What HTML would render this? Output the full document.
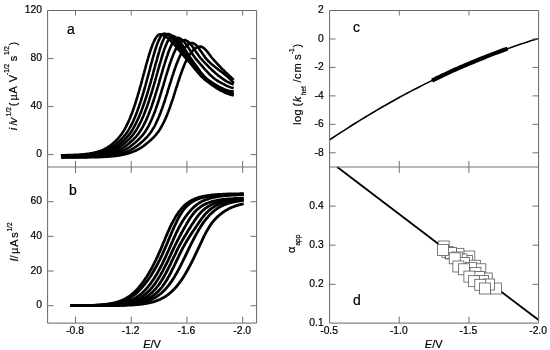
<!DOCTYPE html>
<html><head><meta charset="utf-8"><title>Figure</title>
<style>
html,body{margin:0;padding:0;background:#fff}
svg{display:block}
text{font-family:"Liberation Sans",sans-serif;fill:#000;stroke:#000;stroke-width:0.2px}
.t{font-size:10.3px}
.l{font-size:11px}
.p{font-size:14px;stroke:#000;stroke-width:0.35px}
.s{font-size:6.5px}
.ax{stroke:#666;stroke-width:1;fill:none;shape-rendering:auto}
.cv{stroke:#000;fill:none;stroke-linejoin:round;stroke-linecap:butt}
.sq{fill:#fff;stroke:#505050;stroke-width:0.75}
</style></head><body>
<svg width="550" height="350" viewBox="0 0 550 350">
<rect width="550" height="350" fill="#fff"/>
<g class="cv" stroke-width="2.6" transform="scale(1 1.0)">
<path d="M61.0 155.30L61.5 155.20L62.0 155.20L62.5 155.20L62.9 155.20L63.4 155.20L63.9 155.20L64.4 155.20L64.9 155.20L65.4 155.20L65.9 155.20L66.4 155.10L66.9 155.10L67.4 155.10L68.0 155.10L68.5 155.10L69.0 155.10L69.5 155.10L70.0 155.10L70.5 155.00L71.1 155.00L71.6 155.00L72.1 155.00L72.6 155.00L73.2 155.00L73.7 154.90L74.2 154.90L74.8 154.90L75.3 154.90L75.8 154.80L76.4 154.80L76.9 154.80L77.5 154.80L78.0 154.70L78.6 154.70L79.1 154.70L79.7 154.60L80.2 154.60L80.8 154.50L81.3 154.50L81.9 154.50L82.4 154.40L83.0 154.40L83.6 154.30L84.1 154.30L84.7 154.20L85.3 154.10L85.8 154.10L86.4 154.00L87.0 153.90L87.5 153.90L88.1 153.80L88.7 153.70L89.3 153.60L89.8 153.50L90.4 153.40L91.0 153.30L91.6 153.20L92.2 153.10L92.8 153.00L93.3 152.90L93.9 152.80L94.5 152.60L95.1 152.50L95.7 152.30L96.3 152.20L96.9 152.00L97.5 151.80L98.1 151.70L98.7 151.50L99.3 151.30L99.9 151.10L100.5 150.90L101.1 150.60L101.7 150.40L102.3 150.20L102.9 149.90L103.5 149.60L104.1 149.30L104.7 149.00L105.3 148.70L105.9 148.40L106.5 148.10L107.1 147.70L107.7 147.30L108.3 146.90L108.9 146.50L109.5 146.10L110.2 145.70L110.8 145.20L111.4 144.70L112.0 144.20L112.6 143.70L113.3 143.10L113.9 142.60L114.6 142.00L115.3 141.30L115.9 140.70L116.6 140.00L117.3 139.30L118.0 138.60L118.6 137.80L119.3 137.00L120.0 136.20L120.7 135.40L121.3 134.50L122.0 133.60L122.6 132.60L123.3 131.60L123.9 130.60L124.5 129.50L125.1 128.40L125.7 127.30L126.3 126.10L126.9 124.90L127.5 123.70L128.1 122.40L128.7 121.00L129.3 119.70L129.9 118.30L130.5 116.80L131.1 115.30L131.7 113.80L132.3 112.20L132.9 110.60L133.5 109.00L134.0 107.30L134.6 105.60L135.2 103.80L135.8 102.00L136.3 100.20L136.9 98.30L137.5 96.40L138.0 94.50L138.6 92.60L139.2 90.60L139.7 88.60L140.3 86.60L140.9 84.60L141.4 82.60L142.0 80.50L142.5 78.50L143.1 76.40L143.6 74.40L144.2 72.30L144.7 70.30L145.3 68.30L145.8 66.30L146.3 64.30L146.9 62.40L147.4 60.50L148.0 58.60L148.5 56.80L149.0 55.00L149.6 53.30L150.1 51.60L150.6 50.00L151.2 48.50L151.7 47.00L152.2 45.60L152.7 44.20L153.3 43.00L153.8 41.80L154.3 40.70L154.8 39.70L155.3 38.70L155.8 37.90L156.3 37.10L156.8 36.50L157.3 35.90L157.8 35.40L158.3 35.00L158.8 34.70L159.3 34.40L159.8 34.30L160.3 34.20L161.7 34.50L163.6 35.30L165.4 36.30L167.3 37.70L169.1 39.20L171.0 41.00L172.8 42.90L174.6 45.00L176.5 47.10L178.3 49.40L180.2 51.60L182.0 53.80L183.9 56.00L185.7 58.20L187.6 60.20L189.4 62.20L191.3 64.40L193.1 66.70L194.9 69.00L196.8 71.20L198.6 73.40L200.5 75.50L202.3 77.40L204.2 79.10L206.0 80.50L207.9 81.90L209.7 83.30L211.6 84.60L213.4 85.90L215.2 87.10L217.1 88.30L218.9 89.40L220.8 90.50L222.6 91.40L224.5 92.40L226.3 93.20L228.2 93.90L230.0 94.60L231.9 95.10L233.7 95.50"/>
<path d="M61.0 155.70L61.5 155.60L61.9 155.60L62.4 155.60L62.8 155.60L63.3 155.60L63.8 155.60L64.3 155.60L64.7 155.60L65.2 155.60L65.7 155.60L66.2 155.50L66.7 155.50L67.2 155.50L67.6 155.50L68.1 155.50L68.6 155.50L69.1 155.50L69.6 155.50L70.1 155.50L70.7 155.50L71.2 155.50L71.7 155.40L72.2 155.40L72.7 155.40L73.2 155.40L73.7 155.40L74.3 155.40L74.8 155.30L75.3 155.30L75.9 155.30L76.4 155.30L76.9 155.30L77.5 155.20L78.0 155.20L78.5 155.20L79.1 155.20L79.6 155.10L80.2 155.10L80.7 155.10L81.3 155.00L81.8 155.00L82.4 155.00L82.9 154.90L83.5 154.90L84.1 154.80L84.6 154.80L85.2 154.70L85.8 154.70L86.3 154.60L86.9 154.60L87.5 154.50L88.1 154.50L88.6 154.40L89.2 154.30L89.8 154.30L90.4 154.20L91.0 154.10L91.5 154.00L92.1 153.90L92.7 153.90L93.3 153.80L93.9 153.70L94.5 153.60L95.1 153.40L95.7 153.30L96.3 153.20L96.9 153.10L97.5 152.90L98.1 152.80L98.7 152.70L99.3 152.50L99.9 152.30L100.5 152.20L101.1 152.00L101.7 151.80L102.3 151.60L102.9 151.40L103.5 151.20L104.2 151.00L104.8 150.70L105.4 150.50L106.0 150.20L106.6 149.90L107.2 149.70L107.9 149.40L108.5 149.10L109.1 148.70L109.7 148.40L110.3 148.00L111.0 147.70L111.6 147.30L112.2 146.90L112.9 146.50L113.5 146.00L114.1 145.60L114.7 145.10L115.4 144.60L116.0 144.10L116.7 143.50L117.4 142.90L118.1 142.40L118.8 141.70L119.5 141.10L120.2 140.40L120.9 139.70L121.6 139.00L122.3 138.30L123.0 137.50L123.7 136.70L124.4 135.80L125.1 135.00L125.8 134.10L126.5 133.10L127.2 132.20L127.8 131.20L128.5 130.10L129.1 129.00L129.7 127.90L130.4 126.80L131.0 125.60L131.6 124.40L132.2 123.10L132.9 121.80L133.5 120.50L134.1 119.10L134.7 117.70L135.3 116.20L135.9 114.70L136.5 113.20L137.1 111.60L137.7 110.00L138.3 108.30L138.9 106.60L139.5 104.90L140.1 103.10L140.7 101.30L141.3 99.50L141.8 97.60L142.4 95.80L143.0 93.80L143.6 91.90L144.1 89.90L144.7 88.00L145.3 86.00L145.8 84.00L146.4 81.90L146.9 79.90L147.5 77.90L148.0 75.80L148.6 73.80L149.1 71.80L149.7 69.80L150.2 67.80L150.7 65.80L151.2 63.80L151.8 61.90L152.3 60.00L152.8 58.20L153.3 56.30L153.8 54.60L154.3 52.90L154.8 51.20L155.3 49.60L155.8 48.00L156.3 46.60L156.8 45.20L157.3 43.80L157.8 42.60L158.3 41.40L158.7 40.30L159.2 39.30L159.7 38.30L160.2 37.50L160.6 36.70L161.1 36.00L161.5 35.40L162.0 34.90L162.4 34.50L162.9 34.10L163.3 33.90L163.8 33.70L164.2 33.60L165.1 33.70L166.8 34.30L168.6 35.30L170.3 36.60L172.1 38.30L173.8 40.20L175.5 42.20L177.3 44.50L179.0 46.80L180.8 49.30L182.5 51.70L184.3 54.10L186.0 56.40L187.8 58.60L189.5 60.70L191.2 62.80L193.0 65.00L194.7 67.30L196.5 69.50L198.2 71.70L200.0 73.80L201.7 75.80L203.5 77.60L205.2 79.10L207.0 80.50L208.7 81.70L210.4 83.00L212.2 84.20L213.9 85.40L215.7 86.60L217.4 87.60L219.2 88.70L220.9 89.70L222.7 90.60L224.4 91.40L226.1 92.10L227.9 92.80L229.6 93.30L231.4 93.80L233.1 94.10L233.7 94.20"/>
<path d="M61.0 155.90L61.5 155.90L61.9 155.90L62.4 155.90L62.8 155.90L63.3 155.80L63.8 155.80L64.2 155.80L64.7 155.80L65.2 155.80L65.7 155.80L66.2 155.80L66.6 155.80L67.1 155.80L67.6 155.80L68.1 155.80L68.6 155.80L69.1 155.80L69.6 155.80L70.1 155.80L70.6 155.80L71.1 155.70L71.6 155.70L72.1 155.70L72.7 155.70L73.2 155.70L73.7 155.70L74.2 155.70L74.7 155.70L75.3 155.70L75.8 155.60L76.3 155.60L76.8 155.60L77.4 155.60L77.9 155.60L78.4 155.60L79.0 155.50L79.5 155.50L80.1 155.50L80.6 155.50L81.2 155.40L81.7 155.40L82.3 155.40L82.8 155.40L83.4 155.30L83.9 155.30L84.5 155.30L85.0 155.20L85.6 155.20L86.2 155.10L86.7 155.10L87.3 155.10L87.9 155.00L88.4 155.00L89.0 154.90L89.6 154.90L90.2 154.80L90.7 154.80L91.3 154.70L91.9 154.60L92.5 154.60L93.1 154.50L93.7 154.40L94.2 154.30L94.8 154.20L95.4 154.20L96.0 154.10L96.6 154.00L97.2 153.90L97.8 153.80L98.4 153.70L99.0 153.50L99.6 153.40L100.2 153.30L100.8 153.20L101.4 153.00L102.0 152.90L102.6 152.70L103.2 152.60L103.8 152.40L104.4 152.20L105.0 152.00L105.7 151.80L106.3 151.60L106.9 151.40L107.5 151.20L108.1 151.00L108.7 150.70L109.3 150.50L110.0 150.20L110.6 149.90L111.2 149.60L111.8 149.30L112.5 149.00L113.1 148.70L113.7 148.30L114.3 147.90L115.0 147.60L115.6 147.20L116.2 146.70L116.8 146.30L117.5 145.90L118.1 145.40L118.7 144.90L119.4 144.40L120.0 143.90L120.7 143.30L121.4 142.70L122.1 142.10L122.8 141.50L123.5 140.80L124.2 140.20L124.9 139.50L125.6 138.70L126.3 138.00L127.0 137.20L127.7 136.40L128.4 135.50L129.1 134.60L129.8 133.70L130.5 132.80L131.2 131.80L131.8 130.80L132.5 129.70L133.1 128.70L133.7 127.50L134.4 126.40L135.0 125.20L135.6 124.00L136.3 122.70L136.9 121.40L137.5 120.00L138.2 118.70L138.8 117.20L139.4 115.80L140.0 114.30L140.7 112.70L141.3 111.20L141.9 109.60L142.5 107.90L143.1 106.20L143.7 104.50L144.3 102.80L144.9 101.00L145.5 99.20L146.1 97.30L146.7 95.50L147.3 93.60L147.9 91.70L148.5 89.70L149.0 87.80L149.6 85.80L150.2 83.80L150.8 81.80L151.3 79.80L151.9 77.80L152.4 75.80L153.0 73.80L153.5 71.80L154.0 69.90L154.6 67.90L155.1 65.90L155.6 64.00L156.1 62.10L156.7 60.30L157.2 58.40L157.7 56.70L158.2 54.90L158.7 53.20L159.2 51.60L159.6 50.00L160.1 48.50L160.6 47.00L161.1 45.60L161.5 44.30L162.0 43.10L162.5 41.90L162.9 40.80L163.4 39.80L163.8 38.90L164.3 38.00L164.7 37.20L165.2 36.50L165.6 35.90L166.0 35.40L166.4 35.00L166.9 34.60L167.3 34.40L167.7 34.20L168.1 34.00L168.5 34.00L170.1 34.50L171.8 35.50L173.4 36.80L175.1 38.40L176.7 40.40L178.4 42.50L180.0 44.90L181.6 47.30L183.3 49.80L184.9 52.30L186.6 54.80L188.2 57.20L189.9 59.30L191.5 61.40L193.2 63.50L194.8 65.70L196.4 67.90L198.1 70.10L199.7 72.20L201.4 74.20L203.0 76.10L204.7 77.80L206.3 79.20L207.9 80.50L209.6 81.60L211.2 82.80L212.9 83.90L214.5 85.00L216.2 86.00L217.8 87.00L219.5 88.00L221.1 88.90L222.7 89.70L224.4 90.40L226.0 91.10L227.7 91.60L229.3 92.10L231.0 92.50L232.6 92.70L233.7 92.80"/>
<path d="M61.0 156.30L61.4 156.20L61.9 156.20L62.3 156.20L62.8 156.20L63.2 156.20L63.7 156.20L64.1 156.20L64.6 156.20L65.0 156.20L65.5 156.20L66.0 156.20L66.4 156.20L66.9 156.20L67.4 156.20L67.9 156.20L68.3 156.20L68.8 156.20L69.3 156.20L69.8 156.20L70.3 156.20L70.8 156.20L71.3 156.10L71.8 156.10L72.3 156.10L72.8 156.10L73.3 156.10L73.8 156.10L74.3 156.10L74.8 156.10L75.3 156.10L75.8 156.10L76.4 156.00L76.9 156.00L77.4 156.00L77.9 156.00L78.5 156.00L79.0 156.00L79.5 156.00L80.1 155.90L80.6 155.90L81.1 155.90L81.7 155.90L82.2 155.90L82.8 155.80L83.3 155.80L83.9 155.80L84.4 155.80L85.0 155.70L85.5 155.70L86.1 155.70L86.6 155.60L87.2 155.60L87.8 155.60L88.3 155.50L88.9 155.50L89.5 155.50L90.0 155.40L90.6 155.40L91.2 155.30L91.8 155.30L92.3 155.20L92.9 155.20L93.5 155.10L94.1 155.00L94.7 155.00L95.3 154.90L95.9 154.80L96.4 154.80L97.0 154.70L97.6 154.60L98.2 154.50L98.8 154.40L99.4 154.30L100.0 154.20L100.6 154.10L101.2 154.00L101.8 153.90L102.4 153.80L103.0 153.70L103.6 153.50L104.2 153.40L104.9 153.20L105.5 153.10L106.1 152.90L106.7 152.80L107.3 152.60L107.9 152.40L108.5 152.20L109.2 152.00L109.8 151.80L110.4 151.60L111.0 151.40L111.6 151.10L112.3 150.90L112.9 150.60L113.5 150.30L114.1 150.00L114.8 149.80L115.4 149.40L116.0 149.10L116.7 148.80L117.3 148.40L117.9 148.00L118.6 147.70L119.2 147.30L119.8 146.80L120.5 146.40L121.1 145.90L121.7 145.50L122.4 145.00L123.0 144.50L123.7 143.90L124.4 143.40L125.1 142.80L125.8 142.20L126.5 141.50L127.2 140.90L127.9 140.20L128.7 139.50L129.4 138.80L130.1 138.00L130.9 137.20L131.6 136.40L132.3 135.50L133.0 134.70L133.7 133.80L134.4 132.80L135.1 131.80L135.8 130.80L136.4 129.80L137.1 128.70L137.7 127.60L138.3 126.40L139.0 125.30L139.6 124.00L140.2 122.80L140.9 121.50L141.5 120.20L142.1 118.80L142.7 117.40L143.4 116.00L144.0 114.50L144.6 113.00L145.2 111.40L145.8 109.80L146.4 108.20L147.0 106.60L147.6 104.90L148.2 103.20L148.8 101.40L149.4 99.70L149.9 97.90L150.5 96.00L151.1 94.20L151.7 92.30L152.3 90.40L152.8 88.50L153.4 86.60L154.0 84.70L154.5 82.70L155.1 80.80L155.6 78.80L156.2 76.90L156.7 75.00L157.3 73.00L157.8 71.10L158.3 69.20L158.9 67.30L159.4 65.40L159.9 63.60L160.5 61.80L161.0 60.00L161.5 58.30L162.0 56.60L162.5 55.00L163.0 53.40L163.5 51.80L164.0 50.30L164.5 48.90L165.0 47.60L165.5 46.30L166.0 45.10L166.5 43.90L166.9 42.80L167.4 41.90L167.9 40.90L168.4 40.10L168.8 39.30L169.3 38.60L169.7 38.00L170.2 37.50L170.6 37.10L171.1 36.70L171.5 36.40L172.0 36.20L172.4 36.10L172.9 36.00L174.0 36.30L175.6 37.20L177.1 38.40L178.6 40.00L180.1 42.00L181.7 44.10L183.2 46.50L184.7 49.00L186.3 51.50L187.8 54.00L189.3 56.40L190.9 58.60L192.4 60.60L193.9 62.70L195.4 64.80L197.0 66.90L198.5 69.10L200.0 71.20L201.6 73.20L203.1 75.00L204.6 76.80L206.2 78.30L207.7 79.60L209.2 80.60L210.7 81.60L212.3 82.70L213.8 83.60L215.3 84.60L216.9 85.50L218.4 86.40L219.9 87.20L221.5 88.00L223.0 88.70L224.5 89.40L226.0 89.90L227.6 90.40L229.1 90.80L230.6 91.10L232.2 91.20L233.7 91.30"/>
<path d="M61.0 156.50L61.4 156.50L61.9 156.50L62.3 156.50L62.8 156.50L63.2 156.50L63.6 156.50L64.1 156.50L64.5 156.50L65.0 156.50L65.5 156.50L65.9 156.50L66.4 156.50L66.9 156.50L67.3 156.50L67.8 156.50L68.3 156.50L68.7 156.50L69.2 156.40L69.7 156.40L70.2 156.40L70.7 156.40L71.2 156.40L71.6 156.40L72.1 156.40L72.6 156.40L73.1 156.40L73.6 156.40L74.1 156.40L74.6 156.40L75.1 156.40L75.6 156.40L76.2 156.40L76.7 156.40L77.2 156.30L77.7 156.30L78.2 156.30L78.7 156.30L79.3 156.30L79.8 156.30L80.3 156.30L80.9 156.30L81.4 156.30L81.9 156.20L82.5 156.20L83.0 156.20L83.5 156.20L84.1 156.20L84.6 156.20L85.2 156.10L85.7 156.10L86.3 156.10L86.8 156.10L87.4 156.10L87.9 156.00L88.5 156.00L89.0 156.00L89.6 155.90L90.1 155.90L90.7 155.90L91.3 155.80L91.8 155.80L92.4 155.80L93.0 155.70L93.5 155.70L94.1 155.60L94.7 155.60L95.3 155.60L95.8 155.50L96.4 155.50L97.0 155.40L97.6 155.30L98.2 155.30L98.8 155.20L99.3 155.10L99.9 155.10L100.5 155.00L101.1 154.90L101.7 154.80L102.3 154.80L102.9 154.70L103.5 154.60L104.1 154.50L104.7 154.40L105.3 154.30L105.9 154.20L106.5 154.00L107.1 153.90L107.7 153.80L108.3 153.70L108.9 153.50L109.5 153.40L110.1 153.20L110.7 153.00L111.4 152.90L112.0 152.70L112.6 152.50L113.2 152.30L113.8 152.10L114.4 151.90L115.1 151.70L115.7 151.50L116.3 151.20L116.9 151.00L117.5 150.70L118.2 150.40L118.8 150.10L119.4 149.80L120.0 149.50L120.7 149.20L121.3 148.80L121.9 148.50L122.5 148.10L123.2 147.70L123.8 147.30L124.4 146.90L125.1 146.50L125.7 146.00L126.3 145.50L127.0 145.00L127.6 144.50L128.3 144.00L128.9 143.40L129.6 142.90L130.3 142.30L131.0 141.60L131.7 141.00L132.5 140.30L133.2 139.60L133.9 138.90L134.6 138.10L135.4 137.40L136.1 136.60L136.8 135.70L137.5 134.90L138.2 134.00L138.9 133.00L139.6 132.10L140.2 131.10L140.9 130.10L141.5 129.00L142.2 127.90L142.8 126.80L143.4 125.70L144.0 124.50L144.6 123.20L145.3 122.00L145.9 120.70L146.5 119.40L147.1 118.00L147.7 116.60L148.3 115.20L148.8 113.70L149.4 112.20L150.0 110.70L150.6 109.10L151.2 107.50L151.8 105.90L152.3 104.20L152.9 102.50L153.5 100.80L154.0 99.10L154.6 97.30L155.2 95.50L155.7 93.70L156.3 91.90L156.8 90.10L157.4 88.20L158.0 86.30L158.5 84.50L159.1 82.60L159.6 80.70L160.1 78.80L160.7 76.90L161.2 75.10L161.8 73.20L162.3 71.30L162.9 69.50L163.4 67.70L163.9 65.90L164.5 64.10L165.0 62.40L165.6 60.70L166.1 59.10L166.6 57.40L167.2 55.90L167.7 54.40L168.2 52.90L168.7 51.50L169.3 50.10L169.8 48.80L170.3 47.60L170.8 46.50L171.3 45.40L171.8 44.30L172.4 43.40L172.9 42.50L173.4 41.70L173.9 41.00L174.4 40.30L174.9 39.80L175.4 39.30L175.9 38.80L176.4 38.50L176.9 38.20L177.4 38.00L177.8 37.90L178.3 37.80L179.4 38.20L180.8 38.90L182.2 40.00L183.6 41.40L185.0 43.00L186.4 44.80L187.8 46.80L189.2 48.90L190.6 51.10L192.0 53.20L193.3 55.30L194.7 57.30L196.1 59.10L197.5 60.70L198.9 62.30L200.3 64.00L201.7 65.60L203.1 67.20L204.5 68.80L205.9 70.40L207.3 71.90L208.7 73.40L210.0 74.80L211.4 76.10L212.8 77.30L214.2 78.50L215.6 79.50L217.0 80.40L218.4 81.30L219.8 82.10L221.2 82.90L222.6 83.70L224.0 84.40L225.4 85.10L226.7 85.80L228.1 86.40L229.5 86.90L230.9 87.40L232.3 87.80L233.7 88.10"/>
<path d="M61.0 156.90L61.4 156.90L61.9 156.90L62.3 156.90L62.7 156.90L63.2 156.90L63.6 156.90L64.0 156.90L64.5 156.90L64.9 156.90L65.4 156.90L65.8 156.80L66.3 156.80L66.8 156.80L67.2 156.80L67.7 156.80L68.1 156.80L68.6 156.80L69.1 156.80L69.6 156.80L70.0 156.80L70.5 156.80L71.0 156.80L71.5 156.80L72.0 156.80L72.4 156.80L72.9 156.80L73.4 156.80L73.9 156.80L74.4 156.80L74.9 156.80L75.4 156.80L75.9 156.80L76.4 156.80L76.9 156.80L77.4 156.80L77.9 156.80L78.4 156.70L78.9 156.70L79.5 156.70L80.0 156.70L80.5 156.70L81.0 156.70L81.5 156.70L82.1 156.70L82.6 156.70L83.1 156.70L83.7 156.70L84.2 156.60L84.7 156.60L85.3 156.60L85.8 156.60L86.3 156.60L86.9 156.60L87.4 156.60L88.0 156.50L88.5 156.50L89.1 156.50L89.6 156.50L90.2 156.50L90.7 156.40L91.3 156.40L91.8 156.40L92.4 156.40L92.9 156.30L93.5 156.30L94.1 156.30L94.6 156.30L95.2 156.20L95.8 156.20L96.3 156.10L96.9 156.10L97.5 156.10L98.1 156.00L98.6 156.00L99.2 155.90L99.8 155.90L100.4 155.80L101.0 155.80L101.5 155.70L102.1 155.70L102.7 155.60L103.3 155.60L103.9 155.50L104.5 155.40L105.1 155.30L105.7 155.30L106.3 155.20L106.8 155.10L107.4 155.00L108.0 154.90L108.6 154.80L109.2 154.70L109.8 154.60L110.4 154.50L111.0 154.40L111.7 154.30L112.3 154.10L112.9 154.00L113.5 153.90L114.1 153.70L114.7 153.60L115.3 153.40L115.9 153.20L116.5 153.10L117.1 152.90L117.8 152.70L118.4 152.50L119.0 152.30L119.6 152.10L120.2 151.80L120.8 151.60L121.5 151.30L122.1 151.10L122.7 150.80L123.3 150.50L123.9 150.20L124.6 149.90L125.2 149.60L125.8 149.30L126.5 148.90L127.1 148.60L127.7 148.20L128.3 147.80L129.0 147.40L129.6 147.00L130.2 146.50L130.9 146.10L131.5 145.60L132.1 145.10L132.8 144.60L133.4 144.10L134.1 143.50L134.8 142.90L135.5 142.30L136.2 141.70L136.9 141.10L137.6 140.40L138.3 139.70L139.1 139.00L139.8 138.20L140.5 137.50L141.2 136.70L142.0 135.90L142.7 135.00L143.4 134.10L144.1 133.20L144.7 132.30L145.4 131.30L146.0 130.30L146.7 129.30L147.3 128.20L147.9 127.10L148.5 126.00L149.1 124.80L149.7 123.60L150.3 122.40L150.9 121.10L151.5 119.80L152.1 118.50L152.6 117.10L153.2 115.80L153.8 114.30L154.3 112.90L154.9 111.40L155.5 109.90L156.0 108.30L156.6 106.80L157.1 105.20L157.7 103.50L158.2 101.90L158.8 100.20L159.3 98.50L159.8 96.80L160.4 95.00L160.9 93.30L161.4 91.50L162.0 89.70L162.5 87.90L163.1 86.10L163.6 84.30L164.1 82.50L164.7 80.70L165.2 78.80L165.7 77.00L166.3 75.20L166.8 73.50L167.4 71.70L167.9 69.90L168.5 68.20L169.0 66.50L169.6 64.80L170.1 63.20L170.7 61.60L171.2 60.00L171.8 58.50L172.4 57.00L172.9 55.60L173.5 54.20L174.1 52.80L174.6 51.60L175.2 50.40L175.7 49.20L176.3 48.10L176.9 47.10L177.4 46.10L178.0 45.20L178.6 44.40L179.1 43.70L179.7 43.00L180.3 42.40L180.8 41.80L181.4 41.40L182.0 41.00L182.5 40.60L183.1 40.40L183.7 40.20L184.2 40.10L184.8 40.00L185.8 40.30L187.0 41.00L188.3 41.90L189.5 43.00L190.7 44.40L192.0 45.90L193.2 47.60L194.4 49.40L195.6 51.20L196.9 53.00L198.1 54.80L199.3 56.50L200.6 58.10L201.8 59.50L203.0 60.90L204.2 62.10L205.5 63.40L206.7 64.70L207.9 65.90L209.1 67.20L210.4 68.40L211.6 69.60L212.8 70.70L214.1 71.90L215.3 73.00L216.5 74.10L217.7 75.10L219.0 76.10L220.2 77.00L221.4 77.90L222.7 78.80L223.9 79.60L225.1 80.40L226.3 81.10L227.6 81.80L228.8 82.40L230.0 83.00L231.2 83.60L232.5 84.10L233.7 84.60"/>
<path d="M61.0 157.10L61.4 157.10L61.8 157.10L62.3 157.10L62.7 157.10L63.1 157.10L63.6 157.10L64.0 157.10L64.4 157.10L64.9 157.10L65.3 157.10L65.8 157.10L66.2 157.10L66.7 157.10L67.1 157.10L67.6 157.10L68.0 157.10L68.5 157.10L68.9 157.10L69.4 157.10L69.9 157.10L70.3 157.10L70.8 157.10L71.3 157.10L71.7 157.10L72.2 157.10L72.7 157.10L73.2 157.10L73.7 157.10L74.1 157.10L74.6 157.10L75.1 157.10L75.6 157.10L76.1 157.10L76.6 157.10L77.1 157.10L77.6 157.00L78.1 157.00L78.6 157.00L79.1 157.00L79.6 157.00L80.1 157.00L80.6 157.00L81.1 157.00L81.6 157.00L82.1 157.00L82.7 157.00L83.2 157.00L83.7 157.00L84.2 157.00L84.7 157.00L85.3 157.00L85.8 156.90L86.3 156.90L86.8 156.90L87.4 156.90L87.9 156.90L88.4 156.90L89.0 156.90L89.5 156.90L90.1 156.90L90.6 156.80L91.1 156.80L91.7 156.80L92.2 156.80L92.8 156.80L93.3 156.80L93.9 156.70L94.4 156.70L95.0 156.70L95.5 156.70L96.1 156.70L96.6 156.60L97.2 156.60L97.8 156.60L98.3 156.60L98.9 156.50L99.5 156.50L100.0 156.50L100.6 156.40L101.2 156.40L101.7 156.40L102.3 156.30L102.9 156.30L103.4 156.30L104.0 156.20L104.6 156.20L105.2 156.10L105.8 156.10L106.3 156.00L106.9 156.00L107.5 155.90L108.1 155.80L108.7 155.80L109.3 155.70L109.8 155.60L110.4 155.60L111.0 155.50L111.6 155.40L112.2 155.30L112.8 155.20L113.4 155.10L114.0 155.10L114.6 155.00L115.2 154.80L115.8 154.70L116.4 154.60L117.0 154.50L117.6 154.40L118.2 154.20L118.8 154.10L119.4 154.00L120.0 153.80L120.6 153.70L121.2 153.50L121.8 153.30L122.4 153.20L123.0 153.00L123.7 152.80L124.3 152.60L124.9 152.40L125.5 152.20L126.1 151.90L126.7 151.70L127.3 151.40L127.9 151.20L128.6 150.90L129.2 150.60L129.8 150.30L130.4 150.00L131.0 149.70L131.7 149.40L132.3 149.00L132.9 148.70L133.5 148.30L134.1 147.90L134.8 147.50L135.4 147.10L136.0 146.70L136.6 146.20L137.3 145.80L137.9 145.30L138.5 144.80L139.2 144.20L139.8 143.70L140.5 143.10L141.2 142.60L141.9 141.90L142.6 141.30L143.3 140.70L144.0 140.00L144.7 139.30L145.5 138.60L146.2 137.80L146.9 137.10L147.6 136.30L148.3 135.40L149.0 134.60L149.7 133.70L150.4 132.80L151.0 131.90L151.7 130.90L152.3 129.90L152.9 128.90L153.6 127.80L154.2 126.80L154.8 125.70L155.4 124.50L155.9 123.30L156.5 122.10L157.1 120.90L157.7 119.70L158.2 118.40L158.8 117.00L159.4 115.70L159.9 114.30L160.5 112.90L161.0 111.50L161.5 110.00L162.1 108.50L162.6 107.00L163.2 105.40L163.7 103.90L164.2 102.30L164.8 100.70L165.3 99.00L165.8 97.40L166.3 95.70L166.9 94.10L167.4 92.40L167.9 90.70L168.4 89.00L169.0 87.20L169.5 85.50L170.0 83.80L170.6 82.10L171.1 80.30L171.6 78.60L172.2 76.90L172.7 75.20L173.3 73.60L173.8 71.90L174.4 70.30L174.9 68.70L175.5 67.10L176.0 65.50L176.6 64.00L177.2 62.50L177.8 61.10L178.3 59.70L178.9 58.30L179.5 57.00L180.1 55.70L180.7 54.50L181.3 53.30L181.9 52.20L182.5 51.20L183.1 50.20L183.7 49.30L184.3 48.40L184.9 47.60L185.5 46.90L186.2 46.20L186.8 45.60L187.4 45.10L188.0 44.60L188.6 44.20L189.3 43.80L189.9 43.50L190.5 43.30L191.1 43.10L191.8 43.00L192.4 43.00L193.3 43.30L194.3 43.80L195.4 44.50L196.4 45.40L197.4 46.50L198.5 47.80L199.5 49.20L200.5 50.70L201.6 52.20L202.6 53.80L203.7 55.30L204.7 56.80L205.7 58.20L206.8 59.40L207.8 60.50L208.8 61.50L209.9 62.50L210.9 63.50L211.9 64.40L213.0 65.30L214.0 66.10L215.0 67.00L216.1 67.80L217.1 68.60L218.2 69.40L219.2 70.20L220.2 70.90L221.3 71.70L222.3 72.50L223.3 73.30L224.4 74.10L225.4 75.00L226.4 75.80L227.5 76.70L228.5 77.70L229.6 78.60L230.6 79.60L231.6 80.70L232.7 81.80L233.7 83.00"/>
<path d="M61.0 157.50L61.4 157.50L61.8 157.50L62.2 157.50L62.6 157.50L63.0 157.50L63.4 157.50L63.8 157.50L64.2 157.50L64.6 157.50L65.0 157.50L65.5 157.50L65.9 157.50L66.3 157.50L66.7 157.50L67.1 157.50L67.6 157.50L68.0 157.50L68.4 157.50L68.9 157.50L69.3 157.50L69.8 157.50L70.2 157.50L70.7 157.50L71.1 157.50L71.6 157.50L72.0 157.50L72.5 157.50L72.9 157.50L73.4 157.50L73.8 157.40L74.3 157.40L74.8 157.40L75.2 157.40L75.7 157.40L76.2 157.40L76.7 157.40L77.1 157.40L77.6 157.40L78.1 157.40L78.6 157.40L79.1 157.40L79.6 157.40L80.1 157.40L80.6 157.40L81.1 157.40L81.5 157.40L82.0 157.40L82.5 157.40L83.1 157.40L83.6 157.40L84.1 157.40L84.6 157.40L85.1 157.40L85.6 157.40L86.1 157.40L86.6 157.40L87.1 157.40L87.7 157.30L88.2 157.30L88.7 157.30L89.2 157.30L89.8 157.30L90.3 157.30L90.8 157.30L91.4 157.30L91.9 157.30L92.4 157.30L93.0 157.30L93.5 157.20L94.0 157.20L94.6 157.20L95.1 157.20L95.7 157.20L96.2 157.20L96.8 157.20L97.3 157.10L97.9 157.10L98.4 157.10L99.0 157.10L99.6 157.10L100.1 157.00L100.7 157.00L101.2 157.00L101.8 157.00L102.4 156.90L102.9 156.90L103.5 156.90L104.1 156.90L104.6 156.80L105.2 156.80L105.8 156.80L106.4 156.70L106.9 156.70L107.5 156.70L108.1 156.60L108.7 156.60L109.3 156.50L109.9 156.50L110.4 156.40L111.0 156.40L111.6 156.30L112.2 156.30L112.8 156.20L113.4 156.20L114.0 156.10L114.6 156.00L115.2 156.00L115.8 155.90L116.4 155.80L117.0 155.70L117.6 155.60L118.2 155.60L118.8 155.50L119.4 155.40L120.0 155.30L120.6 155.20L121.2 155.10L121.8 154.90L122.4 154.80L123.0 154.70L123.6 154.60L124.2 154.40L124.8 154.30L125.4 154.20L126.1 154.00L126.7 153.80L127.3 153.70L127.9 153.50L128.5 153.30L129.1 153.10L129.8 152.90L130.4 152.70L131.0 152.50L131.6 152.30L132.3 152.10L132.9 151.80L133.5 151.60L134.1 151.30L134.8 151.00L135.4 150.80L136.0 150.50L136.6 150.20L137.3 149.80L137.9 149.50L138.5 149.20L139.2 148.80L139.8 148.40L140.4 148.10L141.1 147.70L141.7 147.20L142.3 146.80L143.0 146.40L143.6 145.90L144.2 145.40L144.9 144.90L145.5 144.40L146.2 143.90L146.9 143.30L147.6 142.70L148.3 142.20L149.0 141.50L149.8 140.90L150.5 140.20L151.3 139.60L152.0 138.90L152.8 138.10L153.5 137.40L154.2 136.60L155.0 135.80L155.7 135.00L156.4 134.10L157.1 133.30L157.8 132.40L158.5 131.40L159.1 130.50L159.8 129.50L160.4 128.50L161.0 127.50L161.6 126.40L162.2 125.30L162.8 124.20L163.4 123.00L164.0 121.90L164.5 120.70L165.1 119.40L165.7 118.20L166.2 116.90L166.8 115.60L167.3 114.30L167.8 112.90L168.4 111.50L168.9 110.10L169.4 108.70L170.0 107.20L170.5 105.70L171.0 104.20L171.5 102.70L172.0 101.20L172.6 99.60L173.1 98.10L173.6 96.50L174.1 94.90L174.6 93.30L175.1 91.70L175.6 90.00L176.1 88.40L176.7 86.80L177.2 85.20L177.7 83.50L178.2 81.90L178.8 80.30L179.3 78.70L179.8 77.10L180.3 75.60L180.9 74.00L181.4 72.50L182.0 71.00L182.5 69.50L183.1 68.00L183.7 66.60L184.2 65.20L184.8 63.80L185.4 62.50L186.0 61.20L186.6 60.00L187.2 58.80L187.8 57.70L188.4 56.60L189.1 55.50L189.7 54.60L190.3 53.60L191.0 52.70L191.6 51.90L192.3 51.20L192.9 50.40L193.6 49.80L194.2 49.20L194.9 48.70L195.6 48.20L196.2 47.80L196.9 47.40L197.6 47.10L198.3 46.90L198.9 46.70L199.6 46.60L200.3 46.50L201.0 46.50L201.8 46.90L202.6 47.30L203.5 47.90L204.3 48.50L205.1 49.30L205.9 50.10L206.8 51.10L207.6 52.10L208.4 53.10L209.2 54.20L210.1 55.30L210.9 56.40L211.7 57.50L212.5 58.50L213.4 59.50L214.2 60.40L215.0 61.30L215.8 62.20L216.7 63.10L217.5 64.00L218.3 64.80L219.1 65.70L220.0 66.60L220.8 67.40L221.6 68.30L222.4 69.10L223.3 69.90L224.1 70.70L224.9 71.60L225.7 72.40L226.6 73.20L227.4 74.00L228.2 74.80L229.0 75.50L229.9 76.30L230.7 77.10L231.5 77.80L232.3 78.60L233.2 79.30L233.7 79.80"/>
</g>
<g class="cv" stroke-width="2.8" transform="scale(1 1.0)">
<path d="M70.4 305.70L70.9 305.70L71.4 305.70L71.9 305.70L72.4 305.70L72.9 305.70L73.4 305.70L73.9 305.70L74.4 305.70L74.9 305.70L75.4 305.70L75.9 305.60L76.4 305.60L76.9 305.60L77.4 305.60L77.9 305.60L78.4 305.60L78.9 305.60L79.4 305.60L79.9 305.60L80.4 305.60L81.0 305.60L81.5 305.60L82.0 305.60L82.5 305.60L83.0 305.60L83.6 305.60L84.1 305.50L84.6 305.50L85.1 305.50L85.7 305.50L86.2 305.50L86.7 305.50L87.3 305.50L87.8 305.50L88.3 305.50L88.9 305.40L89.4 305.40L89.9 305.40L90.5 305.40L91.0 305.40L91.6 305.40L92.1 305.30L92.6 305.30L93.2 305.30L93.7 305.30L94.3 305.20L94.8 305.20L95.4 305.20L95.9 305.20L96.5 305.10L97.0 305.10L97.6 305.10L98.1 305.00L98.7 305.00L99.2 305.00L99.8 304.90L100.4 304.90L100.9 304.80L101.5 304.80L102.0 304.70L102.6 304.70L103.2 304.60L103.7 304.60L104.3 304.50L104.9 304.40L105.4 304.40L106.0 304.30L106.6 304.20L107.1 304.20L107.7 304.10L108.3 304.00L108.9 303.90L109.4 303.80L110.0 303.70L110.6 303.60L111.2 303.50L111.7 303.40L112.3 303.30L112.9 303.20L113.5 303.00L114.1 302.90L114.6 302.80L115.2 302.60L115.8 302.50L116.4 302.30L117.0 302.10L117.6 302.00L118.1 301.80L118.7 301.60L119.3 301.40L119.9 301.20L120.5 300.90L121.1 300.70L121.7 300.50L122.3 300.20L122.9 300.00L123.4 299.70L124.0 299.40L124.6 299.10L125.2 298.80L125.8 298.50L126.4 298.10L127.0 297.80L127.6 297.40L128.2 297.00L128.8 296.60L129.4 296.20L130.0 295.80L130.6 295.40L131.2 294.90L131.8 294.40L132.4 293.90L133.0 293.40L133.6 292.80L134.2 292.30L134.8 291.70L135.4 291.10L136.0 290.50L136.6 289.80L137.3 289.20L137.9 288.50L138.5 287.80L139.1 287.00L139.8 286.30L140.4 285.50L141.0 284.70L141.7 283.80L142.3 283.00L143.0 282.10L143.6 281.20L144.3 280.20L145.0 279.30L145.6 278.30L146.3 277.30L147.0 276.20L147.6 275.20L148.3 274.10L149.0 273.00L149.6 271.80L150.3 270.70L151.0 269.50L151.6 268.30L152.3 267.10L152.9 265.80L153.6 264.50L154.2 263.30L154.9 261.90L155.5 260.60L156.2 259.30L156.8 257.90L157.5 256.60L158.1 255.20L158.7 253.80L159.3 252.40L160.0 251.00L160.6 249.60L161.2 248.20L161.8 246.80L162.4 245.40L162.9 244.00L163.5 242.60L164.1 241.20L164.7 239.80L165.2 238.40L165.8 237.00L166.4 235.70L167.0 234.40L167.5 233.00L168.1 231.70L168.7 230.40L169.2 229.20L169.8 227.90L170.4 226.70L171.0 225.50L171.5 224.30L172.1 223.20L172.7 222.10L173.3 221.00L173.9 219.90L174.5 218.90L175.0 217.90L175.6 216.90L176.2 215.90L176.8 215.00L177.4 214.10L178.0 213.30L178.5 212.40L179.1 211.60L179.7 210.90L180.3 210.10L180.9 209.40L181.5 208.70L182.0 208.10L182.6 207.40L183.2 206.80L183.8 206.20L184.4 205.70L184.9 205.10L185.5 204.60L186.1 204.10L186.7 203.70L187.3 203.20L187.8 202.80L188.4 202.40L189.0 202.00L189.6 201.60L190.2 201.20L190.7 200.90L191.3 200.60L191.9 200.30L192.5 200.00L193.1 199.70L193.6 199.40L194.2 199.20L194.8 198.90L195.4 198.70L196.0 198.40L196.5 198.20L197.1 198.00L197.7 197.80L198.3 197.60L198.9 197.50L199.4 197.30L200.0 197.10L200.6 197.00L201.2 196.80L201.8 196.70L202.3 196.60L202.9 196.40L203.5 196.30L204.1 196.20L204.6 196.10L205.2 196.00L205.8 195.90L206.4 195.80L207.0 195.70L207.5 195.60L208.1 195.50L208.7 195.40L209.3 195.40L209.8 195.30L210.4 195.20L211.0 195.10L211.6 195.10L212.2 195.00L212.7 195.00L213.3 194.90L213.9 194.80L214.5 194.80L215.0 194.70L215.6 194.70L216.2 194.60L216.8 194.60L217.3 194.60L217.9 194.50L218.5 194.50L219.1 194.40L219.6 194.40L220.2 194.40L220.8 194.30L221.4 194.30L221.9 194.30L222.5 194.30L223.1 194.20L223.7 194.20L224.2 194.20L224.8 194.10L225.4 194.10L226.0 194.10L226.5 194.10L227.1 194.10L227.7 194.00L228.3 194.00L228.8 194.00L229.4 194.00L230.0 194.00L230.6 193.90L231.1 193.90L231.7 193.90L232.3 193.90L232.8 193.90L233.4 193.90L234.0 193.90L234.6 193.80L235.1 193.80L235.7 193.80L236.3 193.80L236.9 193.80L237.4 193.80L238.0 193.80L238.6 193.80L239.1 193.80L239.7 193.80L240.3 193.70L240.8 193.70L241.4 193.70L242.0 193.70L242.6 193.70L243.1 193.70L243.7 193.70"/>
<path d="M70.4 305.70L70.9 305.70L71.4 305.70L71.8 305.70L72.3 305.70L72.8 305.70L73.3 305.70L73.8 305.70L74.3 305.70L74.8 305.70L75.3 305.70L75.7 305.70L76.2 305.70L76.7 305.70L77.2 305.70L77.7 305.60L78.2 305.60L78.7 305.60L79.2 305.60L79.7 305.60L80.3 305.60L80.8 305.60L81.3 305.60L81.8 305.60L82.3 305.60L82.8 305.60L83.3 305.60L83.8 305.60L84.4 305.60L84.9 305.60L85.4 305.60L85.9 305.60L86.4 305.50L87.0 305.50L87.5 305.50L88.0 305.50L88.5 305.50L89.1 305.50L89.6 305.50L90.1 305.50L90.7 305.50L91.2 305.40L91.7 305.40L92.3 305.40L92.8 305.40L93.4 305.40L93.9 305.40L94.4 305.30L95.0 305.30L95.5 305.30L96.1 305.30L96.6 305.20L97.2 305.20L97.7 305.20L98.3 305.20L98.8 305.10L99.4 305.10L99.9 305.10L100.5 305.00L101.0 305.00L101.6 305.00L102.2 304.90L102.7 304.90L103.3 304.80L103.8 304.80L104.4 304.80L105.0 304.70L105.5 304.70L106.1 304.60L106.7 304.50L107.2 304.50L107.8 304.40L108.4 304.30L108.9 304.30L109.5 304.20L110.1 304.10L110.7 304.00L111.2 304.00L111.8 303.90L112.4 303.80L113.0 303.70L113.5 303.60L114.1 303.50L114.7 303.40L115.3 303.20L115.9 303.10L116.4 303.00L117.0 302.90L117.6 302.70L118.2 302.60L118.8 302.40L119.4 302.30L119.9 302.10L120.5 301.90L121.1 301.70L121.7 301.50L122.3 301.30L122.9 301.10L123.5 300.90L124.1 300.70L124.7 300.40L125.3 300.20L125.9 299.90L126.5 299.70L127.1 299.40L127.7 299.10L128.3 298.80L128.9 298.50L129.5 298.10L130.1 297.80L130.7 297.40L131.3 297.00L131.9 296.70L132.5 296.20L133.1 295.80L133.7 295.40L134.3 294.90L134.9 294.40L135.5 294.00L136.1 293.40L136.7 292.90L137.3 292.40L137.9 291.80L138.5 291.20L139.1 290.60L139.7 290.00L140.4 289.30L141.0 288.60L141.6 287.90L142.2 287.20L142.9 286.50L143.5 285.70L144.2 284.90L144.8 284.10L145.5 283.20L146.2 282.40L146.8 281.50L147.5 280.60L148.2 279.60L148.8 278.70L149.5 277.70L150.2 276.70L150.9 275.60L151.6 274.60L152.2 273.50L152.9 272.40L153.6 271.20L154.3 270.10L154.9 268.90L155.6 267.70L156.3 266.50L157.0 265.30L157.6 264.00L158.3 262.70L158.9 261.40L159.6 260.10L160.2 258.80L160.9 257.50L161.5 256.10L162.2 254.80L162.8 253.40L163.4 252.00L164.0 250.70L164.6 249.30L165.2 247.90L165.8 246.50L166.4 245.10L167.0 243.80L167.6 242.40L168.1 241.00L168.7 239.60L169.3 238.30L169.8 237.00L170.4 235.60L171.0 234.30L171.5 233.00L172.1 231.70L172.6 230.50L173.2 229.20L173.7 228.00L174.2 226.80L174.8 225.70L175.3 224.50L175.9 223.40L176.4 222.30L176.9 221.20L177.4 220.20L177.9 219.20L178.4 218.20L178.9 217.20L179.4 216.30L179.9 215.40L180.5 214.50L181.0 213.70L181.5 212.90L182.0 212.10L182.5 211.30L183.0 210.60L183.6 209.90L184.1 209.20L184.7 208.60L185.2 207.90L185.8 207.30L186.3 206.80L186.8 206.20L187.4 205.70L187.9 205.20L188.5 204.70L189.0 204.20L189.6 203.80L190.1 203.30L190.7 202.90L191.2 202.50L191.8 202.20L192.3 201.80L192.9 201.50L193.4 201.10L194.0 200.80L194.6 200.50L195.1 200.20L195.7 200.00L196.2 199.70L196.8 199.50L197.4 199.20L197.9 199.00L198.5 198.80L199.0 198.60L199.6 198.40L200.2 198.20L200.7 198.00L201.3 197.80L201.9 197.70L202.4 197.50L203.0 197.40L203.6 197.20L204.1 197.10L204.7 197.00L205.3 196.80L205.9 196.70L206.4 196.60L207.0 196.50L207.6 196.40L208.2 196.30L208.7 196.20L209.3 196.10L209.9 196.00L210.5 195.90L211.1 195.90L211.7 195.80L212.2 195.70L212.8 195.60L213.4 195.60L214.0 195.50L214.6 195.40L215.2 195.40L215.8 195.30L216.4 195.30L217.0 195.20L217.6 195.20L218.1 195.10L218.7 195.10L219.3 195.00L219.9 195.00L220.5 195.00L221.1 194.90L221.7 194.90L222.4 194.90L223.0 194.80L223.6 194.80L224.2 194.80L224.8 194.70L225.4 194.70L226.0 194.70L226.6 194.60L227.2 194.60L227.9 194.60L228.5 194.60L229.1 194.50L229.7 194.50L230.3 194.50L231.0 194.50L231.6 194.50L232.2 194.40L232.8 194.40L233.5 194.40L234.1 194.40L234.7 194.40L235.3 194.40L236.0 194.30L236.6 194.30L237.3 194.30L237.9 194.30L238.5 194.30L239.2 194.30L239.8 194.30L240.5 194.30L241.1 194.20L241.8 194.20L242.4 194.20L243.0 194.20L243.7 194.20"/>
<path d="M70.4 305.70L70.9 305.70L71.5 305.70L72.0 305.70L72.5 305.70L73.1 305.70L73.6 305.70L74.1 305.70L74.7 305.70L75.2 305.70L75.7 305.70L76.3 305.70L76.8 305.70L77.4 305.70L77.9 305.70L78.4 305.70L79.0 305.70L79.5 305.70L80.1 305.70L80.6 305.60L81.1 305.60L81.7 305.60L82.2 305.60L82.8 305.60L83.3 305.60L83.9 305.60L84.4 305.60L85.0 305.60L85.5 305.60L86.1 305.60L86.6 305.60L87.2 305.60L87.7 305.60L88.3 305.60L88.8 305.60L89.4 305.60L89.9 305.60L90.5 305.50L91.0 305.50L91.6 305.50L92.1 305.50L92.7 305.50L93.3 305.50L93.8 305.50L94.4 305.50L94.9 305.50L95.5 305.40L96.1 305.40L96.6 305.40L97.2 305.40L97.7 305.40L98.3 305.40L98.9 305.30L99.4 305.30L100.0 305.30L100.5 305.30L101.1 305.30L101.7 305.20L102.2 305.20L102.8 305.20L103.4 305.20L103.9 305.10L104.5 305.10L105.1 305.10L105.6 305.00L106.2 305.00L106.8 305.00L107.4 304.90L107.9 304.90L108.5 304.80L109.1 304.80L109.6 304.80L110.2 304.70L110.8 304.70L111.4 304.60L111.9 304.50L112.5 304.50L113.1 304.40L113.7 304.40L114.2 304.30L114.8 304.20L115.4 304.10L116.0 304.10L116.5 304.00L117.1 303.90L117.7 303.80L118.3 303.70L118.9 303.60L119.4 303.50L120.0 303.40L120.6 303.30L121.2 303.20L121.8 303.00L122.3 302.90L122.9 302.80L123.5 302.60L124.1 302.50L124.7 302.30L125.3 302.20L125.8 302.00L126.4 301.80L127.0 301.60L127.6 301.40L128.2 301.20L128.8 301.00L129.4 300.80L129.9 300.60L130.5 300.30L131.1 300.10L131.7 299.80L132.3 299.50L132.9 299.30L133.5 299.00L134.1 298.70L134.7 298.30L135.2 298.00L135.8 297.70L136.4 297.30L137.0 296.90L137.6 296.50L138.2 296.10L138.8 295.70L139.4 295.30L140.0 294.80L140.6 294.30L141.2 293.80L141.8 293.30L142.3 292.80L142.9 292.30L143.5 291.70L144.1 291.10L144.7 290.50L145.3 289.90L145.9 289.20L146.5 288.60L147.1 287.90L147.7 287.20L148.3 286.40L148.9 285.70L149.5 284.90L150.2 284.10L150.8 283.20L151.4 282.40L152.0 281.50L152.6 280.60L153.2 279.70L153.9 278.70L154.5 277.80L155.1 276.80L155.7 275.80L156.4 274.70L157.0 273.70L157.6 272.60L158.2 271.50L158.9 270.30L159.5 269.20L160.1 268.00L160.7 266.80L161.3 265.60L162.0 264.40L162.6 263.10L163.2 261.90L163.8 260.60L164.4 259.30L165.1 258.00L165.7 256.70L166.3 255.30L166.9 254.00L167.5 252.70L168.1 251.30L168.7 250.00L169.3 248.60L169.9 247.30L170.5 245.90L171.1 244.60L171.7 243.20L172.3 241.90L172.9 240.50L173.4 239.20L174.0 237.90L174.6 236.60L175.2 235.30L175.8 234.00L176.4 232.70L177.0 231.50L177.6 230.30L178.2 229.10L178.8 227.90L179.4 226.70L180.0 225.60L180.6 224.50L181.2 223.40L181.9 222.30L182.5 221.30L183.1 220.30L183.8 219.30L184.4 218.30L185.1 217.40L185.7 216.50L186.4 215.60L187.0 214.70L187.7 213.90L188.3 213.10L188.9 212.40L189.6 211.60L190.2 210.90L190.8 210.20L191.4 209.60L192.0 208.90L192.6 208.30L193.2 207.70L193.8 207.20L194.4 206.60L195.0 206.10L195.6 205.60L196.2 205.10L196.8 204.60L197.4 204.20L198.0 203.80L198.6 203.40L199.2 203.00L199.8 202.60L200.4 202.30L201.0 201.90L201.6 201.60L202.2 201.30L202.8 201.00L203.4 200.70L204.0 200.40L204.6 200.20L205.2 199.90L205.8 199.70L206.3 199.50L206.9 199.30L207.5 199.10L208.1 198.90L208.7 198.70L209.3 198.50L209.9 198.30L210.4 198.20L211.0 198.00L211.6 197.90L212.2 197.70L212.8 197.60L213.3 197.40L213.9 197.30L214.5 197.20L215.1 197.10L215.6 197.00L216.2 196.90L216.8 196.80L217.4 196.70L217.9 196.60L218.5 196.50L219.1 196.40L219.6 196.30L220.2 196.20L220.8 196.20L221.3 196.10L221.9 196.00L222.4 196.00L223.0 195.90L223.6 195.80L224.1 195.80L224.7 195.70L225.2 195.70L225.8 195.60L226.3 195.60L226.9 195.50L227.4 195.50L228.0 195.40L228.5 195.40L229.1 195.40L229.6 195.30L230.1 195.30L230.7 195.30L231.2 195.20L231.8 195.20L232.3 195.20L232.8 195.10L233.4 195.10L233.9 195.10L234.4 195.00L235.0 195.00L235.5 195.00L236.0 195.00L236.5 194.90L237.1 194.90L237.6 194.90L238.1 194.90L238.6 194.90L239.1 194.80L239.6 194.80L240.2 194.80L240.7 194.80L241.2 194.80L241.7 194.80L242.2 194.70L242.7 194.70L243.2 194.70L243.7 194.70"/>
<path d="M70.4 305.70L71.0 305.70L71.5 305.70L72.1 305.70L72.7 305.70L73.2 305.70L73.8 305.70L74.3 305.70L74.9 305.70L75.5 305.70L76.0 305.70L76.6 305.70L77.2 305.70L77.7 305.70L78.3 305.70L78.9 305.70L79.4 305.70L80.0 305.70L80.6 305.70L81.1 305.70L81.7 305.70L82.3 305.70L82.8 305.70L83.4 305.60L84.0 305.60L84.5 305.60L85.1 305.60L85.7 305.60L86.2 305.60L86.8 305.60L87.4 305.60L87.9 305.60L88.5 305.60L89.1 305.60L89.6 305.60L90.2 305.60L90.8 305.60L91.4 305.60L91.9 305.60L92.5 305.60L93.1 305.60L93.6 305.60L94.2 305.50L94.8 305.50L95.3 305.50L95.9 305.50L96.5 305.50L97.1 305.50L97.6 305.50L98.2 305.50L98.8 305.50L99.3 305.40L99.9 305.40L100.5 305.40L101.1 305.40L101.6 305.40L102.2 305.40L102.8 305.40L103.4 305.30L103.9 305.30L104.5 305.30L105.1 305.30L105.6 305.30L106.2 305.20L106.8 305.20L107.4 305.20L107.9 305.10L108.5 305.10L109.1 305.10L109.7 305.10L110.2 305.00L110.8 305.00L111.4 305.00L112.0 304.90L112.5 304.90L113.1 304.80L113.7 304.80L114.3 304.70L114.8 304.70L115.4 304.60L116.0 304.60L116.6 304.50L117.2 304.50L117.7 304.40L118.3 304.30L118.9 304.30L119.5 304.20L120.0 304.10L120.6 304.00L121.2 304.00L121.8 303.90L122.4 303.80L122.9 303.70L123.5 303.60L124.1 303.50L124.7 303.40L125.2 303.30L125.8 303.10L126.4 303.00L127.0 302.90L127.6 302.80L128.1 302.60L128.7 302.50L129.3 302.30L129.9 302.20L130.5 302.00L131.0 301.80L131.6 301.60L132.2 301.40L132.8 301.20L133.4 301.00L133.9 300.80L134.5 300.60L135.1 300.30L135.7 300.10L136.3 299.80L136.8 299.60L137.4 299.30L138.0 299.00L138.6 298.70L139.2 298.40L139.7 298.10L140.3 297.70L140.9 297.40L141.5 297.00L142.1 296.60L142.7 296.20L143.2 295.80L143.8 295.40L144.4 294.90L145.0 294.50L145.6 294.00L146.1 293.50L146.7 293.00L147.3 292.50L147.9 291.90L148.5 291.40L149.1 290.80L149.6 290.20L150.2 289.50L150.8 288.90L151.4 288.20L152.0 287.50L152.6 286.80L153.1 286.10L153.7 285.30L154.3 284.60L154.9 283.80L155.5 283.00L156.0 282.10L156.6 281.20L157.2 280.40L157.8 279.40L158.4 278.50L159.0 277.60L159.5 276.60L160.1 275.60L160.7 274.60L161.3 273.50L161.9 272.50L162.5 271.40L163.1 270.30L163.6 269.10L164.2 268.00L164.8 266.80L165.4 265.70L166.0 264.50L166.6 263.30L167.2 262.10L167.8 260.80L168.4 259.60L169.0 258.30L169.6 257.00L170.2 255.80L170.8 254.50L171.4 253.20L172.0 251.90L172.6 250.60L173.2 249.30L173.8 248.00L174.5 246.70L175.1 245.40L175.7 244.20L176.4 242.90L177.0 241.60L177.6 240.30L178.3 239.10L178.9 237.90L179.6 236.60L180.2 235.40L180.9 234.20L181.5 233.00L182.1 231.90L182.8 230.70L183.4 229.60L184.0 228.50L184.6 227.50L185.2 226.40L185.8 225.40L186.4 224.40L186.9 223.40L187.5 222.40L188.1 221.50L188.6 220.60L189.1 219.70L189.7 218.90L190.2 218.00L190.8 217.20L191.3 216.50L191.8 215.70L192.3 215.00L192.9 214.30L193.4 213.60L193.9 213.00L194.5 212.30L195.0 211.70L195.5 211.20L196.1 210.60L196.6 210.10L197.2 209.50L197.7 209.10L198.3 208.60L198.9 208.10L199.4 207.70L200.0 207.30L200.5 206.90L201.1 206.50L201.6 206.10L202.2 205.80L202.7 205.40L203.3 205.10L203.9 204.80L204.4 204.50L205.0 204.20L205.5 203.90L206.1 203.70L206.7 203.40L207.2 203.20L207.8 203.00L208.3 202.80L208.9 202.50L209.5 202.40L210.0 202.20L210.6 202.00L211.2 201.80L211.7 201.60L212.3 201.50L212.9 201.30L213.4 201.20L214.0 201.00L214.6 200.90L215.1 200.80L215.7 200.70L216.3 200.50L216.8 200.40L217.4 200.30L218.0 200.20L218.5 200.10L219.1 200.00L219.7 199.90L220.3 199.90L220.8 199.80L221.4 199.70L222.0 199.60L222.6 199.50L223.1 199.50L223.7 199.40L224.3 199.30L224.9 199.30L225.4 199.20L226.0 199.20L226.6 199.10L227.2 199.10L227.8 199.00L228.3 199.00L228.9 198.90L229.5 198.90L230.1 198.80L230.7 198.80L231.3 198.80L231.8 198.70L232.4 198.70L233.0 198.60L233.6 198.60L234.2 198.60L234.8 198.50L235.4 198.50L236.0 198.50L236.6 198.50L237.1 198.40L237.7 198.40L238.3 198.40L238.9 198.40L239.5 198.30L240.1 198.30L240.7 198.30L241.3 198.30L241.9 198.30L242.5 198.20L243.1 198.20L243.7 198.20"/>
<path d="M70.4 305.70L71.0 305.70L71.6 305.70L72.2 305.70L72.8 305.70L73.3 305.70L73.9 305.70L74.5 305.70L75.1 305.70L75.7 305.70L76.3 305.70L76.9 305.70L77.4 305.70L78.0 305.70L78.6 305.70L79.2 305.70L79.8 305.70L80.4 305.70L81.0 305.70L81.6 305.70L82.1 305.70L82.7 305.70L83.3 305.70L83.9 305.70L84.5 305.70L85.1 305.70L85.6 305.70L86.2 305.70L86.8 305.60L87.4 305.60L88.0 305.60L88.6 305.60L89.2 305.60L89.7 305.60L90.3 305.60L90.9 305.60L91.5 305.60L92.1 305.60L92.7 305.60L93.2 305.60L93.8 305.60L94.4 305.60L95.0 305.60L95.6 305.60L96.1 305.60L96.7 305.60L97.3 305.60L97.9 305.60L98.5 305.50L99.1 305.50L99.6 305.50L100.2 305.50L100.8 305.50L101.4 305.50L102.0 305.50L102.5 305.50L103.1 305.50L103.7 305.40L104.3 305.40L104.9 305.40L105.5 305.40L106.0 305.40L106.6 305.40L107.2 305.40L107.8 305.30L108.4 305.30L108.9 305.30L109.5 305.30L110.1 305.20L110.7 305.20L111.3 305.20L111.8 305.20L112.4 305.10L113.0 305.10L113.6 305.10L114.1 305.10L114.7 305.00L115.3 305.00L115.9 304.90L116.5 304.90L117.0 304.90L117.6 304.80L118.2 304.80L118.8 304.70L119.4 304.70L119.9 304.60L120.5 304.60L121.1 304.50L121.7 304.50L122.2 304.40L122.8 304.30L123.4 304.30L124.0 304.20L124.6 304.10L125.1 304.10L125.7 304.00L126.3 303.90L126.9 303.80L127.4 303.70L128.0 303.60L128.6 303.50L129.2 303.40L129.7 303.30L130.3 303.20L130.9 303.10L131.5 302.90L132.1 302.80L132.6 302.70L133.2 302.50L133.8 302.40L134.4 302.20L134.9 302.00L135.5 301.90L136.1 301.70L136.7 301.50L137.2 301.30L137.8 301.10L138.4 300.90L139.0 300.70L139.5 300.50L140.1 300.20L140.7 300.00L141.3 299.70L141.8 299.40L142.4 299.20L143.0 298.90L143.6 298.60L144.1 298.20L144.7 297.90L145.3 297.60L145.9 297.20L146.4 296.90L147.0 296.50L147.6 296.10L148.1 295.70L148.7 295.20L149.3 294.80L149.9 294.30L150.4 293.90L151.0 293.40L151.6 292.90L152.2 292.30L152.7 291.80L153.3 291.20L153.9 290.60L154.5 290.00L155.0 289.40L155.6 288.80L156.2 288.10L156.7 287.40L157.3 286.70L157.8 286.00L158.4 285.30L159.0 284.50L159.5 283.70L160.1 282.90L160.6 282.10L161.2 281.20L161.7 280.40L162.3 279.50L162.8 278.50L163.4 277.60L163.9 276.60L164.5 275.70L165.0 274.70L165.6 273.60L166.1 272.60L166.7 271.50L167.3 270.50L167.8 269.40L168.4 268.20L168.9 267.10L169.5 266.00L170.1 264.80L170.7 263.60L171.2 262.40L171.8 261.20L172.4 260.00L173.0 258.80L173.6 257.50L174.2 256.30L174.8 255.00L175.4 253.80L176.0 252.50L176.6 251.20L177.2 250.00L177.8 248.70L178.5 247.40L179.1 246.20L179.8 244.90L180.5 243.70L181.2 242.40L181.9 241.20L182.6 239.90L183.3 238.70L184.0 237.50L184.7 236.30L185.4 235.20L186.1 234.00L186.8 232.90L187.5 231.70L188.2 230.60L188.8 229.50L189.5 228.50L190.2 227.40L190.8 226.40L191.4 225.40L192.1 224.40L192.7 223.50L193.3 222.60L193.9 221.70L194.4 220.80L195.0 219.90L195.6 219.10L196.2 218.30L196.7 217.50L197.3 216.80L197.8 216.00L198.4 215.30L198.9 214.70L199.5 214.00L200.0 213.40L200.6 212.80L201.1 212.20L201.7 211.60L202.2 211.10L202.8 210.50L203.4 210.00L203.9 209.60L204.5 209.10L205.0 208.60L205.6 208.20L206.2 207.80L206.7 207.40L207.3 207.00L207.8 206.70L208.4 206.30L209.0 206.00L209.5 205.70L210.1 205.40L210.6 205.10L211.2 204.80L211.8 204.50L212.3 204.30L212.9 204.00L213.4 203.80L214.0 203.60L214.5 203.30L215.1 203.10L215.7 202.90L216.2 202.70L216.8 202.60L217.3 202.40L217.9 202.20L218.4 202.10L219.0 201.90L219.5 201.80L220.1 201.60L220.7 201.50L221.2 201.40L221.8 201.20L222.3 201.10L222.9 201.00L223.4 200.90L224.0 200.80L224.5 200.70L225.1 200.60L225.6 200.50L226.2 200.40L226.7 200.40L227.3 200.30L227.8 200.20L228.4 200.10L228.9 200.00L229.5 200.00L230.0 199.90L230.6 199.90L231.1 199.80L231.7 199.70L232.2 199.70L232.8 199.60L233.3 199.60L233.9 199.50L234.4 199.50L235.0 199.40L235.5 199.40L236.1 199.30L236.6 199.30L237.2 199.30L237.7 199.20L238.3 199.20L238.8 199.20L239.4 199.10L239.9 199.10L240.4 199.10L241.0 199.00L241.5 199.00L242.1 199.00L242.6 199.00L243.2 198.90L243.7 198.90"/>
<path d="M70.4 305.70L71.0 305.70L71.6 305.70L72.2 305.70L72.8 305.70L73.4 305.70L74.0 305.70L74.7 305.70L75.3 305.70L75.9 305.70L76.5 305.70L77.1 305.70L77.7 305.70L78.3 305.70L78.9 305.70L79.5 305.70L80.1 305.70L80.7 305.70L81.3 305.70L81.9 305.70L82.5 305.70L83.1 305.70L83.7 305.70L84.3 305.70L84.9 305.70L85.5 305.70L86.1 305.70L86.7 305.70L87.3 305.70L87.9 305.70L88.5 305.70L89.1 305.70L89.7 305.70L90.3 305.70L90.9 305.60L91.5 305.60L92.1 305.60L92.7 305.60L93.3 305.60L93.9 305.60L94.5 305.60L95.0 305.60L95.6 305.60L96.2 305.60L96.8 305.60L97.4 305.60L98.0 305.60L98.6 305.60L99.2 305.60L99.8 305.60L100.4 305.60L101.0 305.60L101.6 305.60L102.1 305.60L102.7 305.50L103.3 305.50L103.9 305.50L104.5 305.50L105.1 305.50L105.7 305.50L106.3 305.50L106.8 305.50L107.4 305.50L108.0 305.40L108.6 305.40L109.2 305.40L109.8 305.40L110.4 305.40L110.9 305.40L111.5 305.40L112.1 305.30L112.7 305.30L113.3 305.30L113.9 305.30L114.5 305.30L115.0 305.20L115.6 305.20L116.2 305.20L116.8 305.20L117.4 305.10L117.9 305.10L118.5 305.10L119.1 305.00L119.7 305.00L120.3 305.00L120.8 304.90L121.4 304.90L122.0 304.90L122.6 304.80L123.2 304.80L123.7 304.70L124.3 304.70L124.9 304.60L125.5 304.60L126.0 304.50L126.6 304.40L127.2 304.40L127.8 304.30L128.3 304.30L128.9 304.20L129.5 304.10L130.1 304.00L130.7 304.00L131.2 303.90L131.8 303.80L132.4 303.70L132.9 303.60L133.5 303.50L134.1 303.40L134.7 303.30L135.2 303.20L135.8 303.00L136.4 302.90L137.0 302.80L137.5 302.60L138.1 302.50L138.7 302.40L139.2 302.20L139.8 302.00L140.4 301.90L141.0 301.70L141.5 301.50L142.1 301.30L142.7 301.10L143.2 300.90L143.8 300.70L144.4 300.50L144.9 300.20L145.5 300.00L146.1 299.70L146.6 299.50L147.2 299.20L147.8 298.90L148.3 298.60L148.9 298.30L149.5 298.00L150.0 297.60L150.6 297.30L151.2 296.90L151.7 296.60L152.3 296.20L152.9 295.80L153.4 295.40L154.0 294.90L154.6 294.50L155.1 294.00L155.7 293.60L156.3 293.10L156.8 292.50L157.4 292.00L158.0 291.50L158.5 290.90L159.1 290.30L159.7 289.70L160.2 289.10L160.8 288.50L161.3 287.80L161.9 287.10L162.4 286.40L162.9 285.70L163.5 285.00L164.0 284.20L164.6 283.40L165.1 282.60L165.6 281.80L166.1 281.00L166.7 280.10L167.2 279.20L167.7 278.30L168.2 277.40L168.8 276.40L169.3 275.50L169.8 274.50L170.4 273.50L170.9 272.50L171.4 271.40L171.9 270.30L172.5 269.30L173.0 268.20L173.6 267.10L174.1 265.90L174.7 264.80L175.2 263.60L175.8 262.50L176.3 261.30L176.9 260.10L177.5 258.90L178.1 257.70L178.6 256.50L179.2 255.20L179.8 254.00L180.4 252.80L181.0 251.50L181.7 250.30L182.3 249.00L182.9 247.80L183.6 246.60L184.3 245.30L185.0 244.10L185.7 242.90L186.4 241.70L187.1 240.50L187.8 239.30L188.6 238.10L189.3 236.90L190.0 235.80L190.8 234.60L191.5 233.50L192.2 232.40L193.0 231.30L193.7 230.30L194.4 229.20L195.1 228.20L195.7 227.20L196.4 226.20L197.0 225.20L197.7 224.30L198.3 223.40L198.9 222.50L199.5 221.60L200.1 220.80L200.7 220.00L201.3 219.20L201.8 218.40L202.4 217.60L203.0 216.90L203.5 216.20L204.1 215.50L204.6 214.90L205.2 214.20L205.7 213.60L206.3 213.00L206.8 212.50L207.4 211.90L207.9 211.40L208.5 210.90L209.1 210.40L209.6 209.90L210.2 209.50L210.7 209.00L211.3 208.60L211.8 208.20L212.4 207.80L213.0 207.40L213.5 207.10L214.1 206.70L214.6 206.40L215.2 206.10L215.7 205.80L216.3 205.50L216.8 205.20L217.4 205.00L217.9 204.70L218.5 204.50L219.0 204.20L219.6 204.00L220.1 203.80L220.7 203.60L221.2 203.40L221.8 203.20L222.3 203.00L222.9 202.90L223.4 202.70L224.0 202.50L224.5 202.40L225.1 202.20L225.6 202.10L226.1 202.00L226.7 201.80L227.2 201.70L227.8 201.60L228.3 201.50L228.9 201.40L229.4 201.30L229.9 201.20L230.5 201.10L231.0 201.00L231.6 200.90L232.1 200.80L232.6 200.70L233.2 200.70L233.7 200.60L234.2 200.50L234.8 200.40L235.3 200.40L235.8 200.30L236.4 200.20L236.9 200.20L237.4 200.10L237.9 200.10L238.5 200.00L239.0 200.00L239.5 199.90L240.0 199.90L240.6 199.80L241.1 199.80L241.6 199.80L242.1 199.70L242.7 199.70L243.2 199.60L243.7 199.60"/>
<path d="M70.4 305.70L71.0 305.70L71.6 305.70L72.2 305.70L72.8 305.70L73.4 305.70L74.0 305.70L74.5 305.70L75.1 305.70L75.7 305.70L76.3 305.70L76.9 305.70L77.5 305.70L78.1 305.70L78.7 305.70L79.3 305.70L79.9 305.70L80.5 305.70L81.0 305.70L81.6 305.70L82.2 305.70L82.8 305.70L83.4 305.70L84.0 305.70L84.6 305.70L85.2 305.70L85.8 305.70L86.3 305.70L86.9 305.70L87.5 305.70L88.1 305.70L88.7 305.70L89.3 305.70L89.9 305.70L90.5 305.70L91.0 305.70L91.6 305.70L92.2 305.70L92.8 305.70L93.4 305.70L94.0 305.70L94.6 305.60L95.2 305.60L95.7 305.60L96.3 305.60L96.9 305.60L97.5 305.60L98.1 305.60L98.7 305.60L99.3 305.60L99.8 305.60L100.4 305.60L101.0 305.60L101.6 305.60L102.2 305.60L102.8 305.60L103.3 305.60L103.9 305.60L104.5 305.60L105.1 305.60L105.7 305.60L106.3 305.50L106.8 305.50L107.4 305.50L108.0 305.50L108.6 305.50L109.2 305.50L109.8 305.50L110.3 305.50L110.9 305.50L111.5 305.50L112.1 305.40L112.7 305.40L113.2 305.40L113.8 305.40L114.4 305.40L115.0 305.40L115.6 305.40L116.2 305.30L116.7 305.30L117.3 305.30L117.9 305.30L118.5 305.30L119.1 305.20L119.6 305.20L120.2 305.20L120.8 305.20L121.4 305.10L122.0 305.10L122.5 305.10L123.1 305.00L123.7 305.00L124.3 305.00L124.9 304.90L125.4 304.90L126.0 304.90L126.6 304.80L127.2 304.80L127.7 304.70L128.3 304.70L128.9 304.60L129.5 304.60L130.1 304.50L130.6 304.50L131.2 304.40L131.8 304.40L132.4 304.30L133.0 304.20L133.5 304.10L134.1 304.10L134.7 304.00L135.3 303.90L135.8 303.80L136.4 303.70L137.0 303.60L137.6 303.60L138.1 303.50L138.7 303.30L139.3 303.20L139.9 303.10L140.4 303.00L141.0 302.90L141.6 302.70L142.2 302.60L142.8 302.50L143.3 302.30L143.9 302.20L144.5 302.00L145.1 301.80L145.6 301.70L146.2 301.50L146.8 301.30L147.4 301.10L147.9 300.90L148.5 300.70L149.1 300.50L149.7 300.20L150.2 300.00L150.8 299.70L151.4 299.50L151.9 299.20L152.5 298.90L153.1 298.60L153.7 298.30L154.2 298.00L154.8 297.70L155.4 297.40L156.0 297.00L156.5 296.70L157.1 296.30L157.7 295.90L158.3 295.50L158.8 295.10L159.4 294.60L160.0 294.20L160.6 293.70L161.1 293.30L161.7 292.80L162.3 292.30L162.8 291.70L163.4 291.20L164.0 290.60L164.6 290.00L165.1 289.40L165.7 288.80L166.3 288.20L166.8 287.50L167.4 286.90L168.0 286.20L168.5 285.50L169.1 284.70L169.7 284.00L170.2 283.20L170.8 282.40L171.4 281.60L171.9 280.80L172.5 279.90L173.0 279.10L173.6 278.20L174.2 277.30L174.7 276.40L175.3 275.40L175.8 274.40L176.4 273.50L177.0 272.50L177.5 271.40L178.1 270.40L178.6 269.40L179.2 268.30L179.8 267.20L180.3 266.10L180.9 265.00L181.5 263.90L182.0 262.70L182.6 261.60L183.2 260.40L183.7 259.20L184.3 258.10L184.9 256.90L185.5 255.70L186.0 254.50L186.6 253.30L187.2 252.10L187.8 250.90L188.4 249.70L188.9 248.50L189.5 247.30L190.1 246.10L190.7 244.90L191.3 243.70L191.9 242.50L192.5 241.30L193.1 240.20L193.7 239.00L194.3 237.90L194.9 236.70L195.5 235.60L196.1 234.50L196.7 233.40L197.3 232.40L197.9 231.30L198.5 230.30L199.1 229.20L199.7 228.30L200.3 227.30L200.9 226.30L201.5 225.40L202.1 224.50L202.7 223.60L203.3 222.70L203.9 221.90L204.6 221.00L205.2 220.20L205.8 219.50L206.4 218.70L207.0 218.00L207.6 217.30L208.2 216.60L208.8 215.90L209.4 215.30L210.0 214.60L210.6 214.00L211.2 213.50L211.8 212.90L212.4 212.40L213.0 211.80L213.5 211.30L214.1 210.80L214.7 210.40L215.3 209.90L215.9 209.50L216.5 209.10L217.0 208.70L217.6 208.30L218.2 207.90L218.8 207.60L219.3 207.20L219.9 206.90L220.5 206.60L221.1 206.30L221.6 206.00L222.2 205.70L222.8 205.40L223.3 205.20L223.9 204.90L224.5 204.70L225.0 204.50L225.6 204.30L226.2 204.10L226.7 203.90L227.3 203.70L227.9 203.50L228.4 203.30L229.0 203.10L229.5 203.00L230.1 202.80L230.7 202.70L231.2 202.50L231.8 202.40L232.3 202.20L232.9 202.10L233.4 202.00L234.0 201.90L234.5 201.80L235.1 201.70L235.6 201.60L236.2 201.50L236.7 201.40L237.3 201.30L237.8 201.20L238.3 201.10L238.9 201.00L239.4 200.90L240.0 200.90L240.5 200.80L241.0 200.70L241.6 200.60L242.1 200.60L242.6 200.50L243.2 200.50L243.7 200.40"/>
<path d="M70.4 305.70L71.0 305.70L71.6 305.70L72.2 305.70L72.8 305.70L73.4 305.70L74.0 305.70L74.6 305.70L75.2 305.70L75.8 305.70L76.4 305.70L77.0 305.70L77.6 305.70L78.2 305.70L78.8 305.70L79.4 305.70L80.0 305.70L80.6 305.70L81.2 305.70L81.8 305.70L82.4 305.70L83.0 305.70L83.6 305.70L84.2 305.70L84.8 305.70L85.4 305.70L86.0 305.70L86.5 305.70L87.1 305.70L87.7 305.70L88.3 305.70L88.9 305.70L89.5 305.70L90.1 305.70L90.7 305.70L91.3 305.70L91.9 305.70L92.5 305.70L93.1 305.70L93.7 305.70L94.3 305.70L94.8 305.70L95.4 305.70L96.0 305.70L96.6 305.70L97.2 305.70L97.8 305.70L98.4 305.70L99.0 305.70L99.6 305.70L100.2 305.70L100.7 305.70L101.3 305.60L101.9 305.60L102.5 305.60L103.1 305.60L103.7 305.60L104.3 305.60L104.9 305.60L105.5 305.60L106.0 305.60L106.6 305.60L107.2 305.60L107.8 305.60L108.4 305.60L109.0 305.60L109.6 305.60L110.1 305.60L110.7 305.60L111.3 305.60L111.9 305.60L112.5 305.60L113.1 305.60L113.6 305.50L114.2 305.50L114.8 305.50L115.4 305.50L116.0 305.50L116.6 305.50L117.2 305.50L117.7 305.50L118.3 305.50L118.9 305.50L119.5 305.40L120.1 305.40L120.6 305.40L121.2 305.40L121.8 305.40L122.4 305.40L123.0 305.40L123.6 305.30L124.1 305.30L124.7 305.30L125.3 305.30L125.9 305.30L126.5 305.20L127.0 305.20L127.6 305.20L128.2 305.20L128.8 305.10L129.4 305.10L129.9 305.10L130.5 305.10L131.1 305.00L131.7 305.00L132.2 305.00L132.8 304.90L133.4 304.90L134.0 304.80L134.6 304.80L135.1 304.80L135.7 304.70L136.3 304.70L136.9 304.60L137.4 304.60L138.0 304.50L138.6 304.50L139.2 304.40L139.7 304.30L140.3 304.30L140.9 304.20L141.5 304.10L142.0 304.10L142.6 304.00L143.2 303.90L143.8 303.80L144.3 303.70L144.9 303.70L145.5 303.60L146.1 303.50L146.6 303.40L147.2 303.30L147.8 303.20L148.4 303.00L148.9 302.90L149.5 302.80L150.1 302.70L150.7 302.50L151.2 302.40L151.8 302.20L152.4 302.10L152.9 301.90L153.5 301.80L154.1 301.60L154.7 301.40L155.2 301.20L155.8 301.00L156.4 300.80L157.0 300.60L157.5 300.40L158.1 300.20L158.7 299.90L159.2 299.70L159.8 299.50L160.4 299.20L160.9 298.90L161.5 298.60L162.1 298.30L162.7 298.00L163.2 297.70L163.8 297.40L164.4 297.10L164.9 296.70L165.5 296.40L166.1 296.00L166.6 295.60L167.2 295.20L167.8 294.80L168.3 294.40L168.9 293.90L169.5 293.50L170.1 293.00L170.6 292.50L171.2 292.00L171.8 291.50L172.3 290.90L172.9 290.40L173.5 289.80L174.0 289.30L174.6 288.70L175.2 288.00L175.7 287.40L176.3 286.80L176.9 286.10L177.4 285.40L178.0 284.70L178.6 284.00L179.1 283.20L179.7 282.50L180.3 281.70L180.8 280.90L181.4 280.10L182.0 279.30L182.5 278.40L183.1 277.50L183.6 276.70L184.2 275.80L184.8 274.80L185.3 273.90L185.9 273.00L186.4 272.00L187.0 271.00L187.6 270.00L188.1 269.00L188.7 268.00L189.2 266.90L189.8 265.90L190.3 264.80L190.9 263.70L191.5 262.60L192.0 261.60L192.6 260.40L193.1 259.30L193.7 258.20L194.2 257.10L194.8 256.00L195.3 254.80L195.8 253.70L196.4 252.50L196.9 251.40L197.5 250.30L198.0 249.10L198.5 248.00L199.1 246.90L199.6 245.70L200.1 244.60L200.6 243.50L201.2 242.40L201.7 241.30L202.2 240.20L202.7 239.10L203.2 238.00L203.7 237.00L204.2 235.90L204.8 234.90L205.3 233.90L205.8 232.90L206.3 231.90L206.8 231.00L207.4 230.00L207.9 229.10L208.5 228.20L209.0 227.30L209.6 226.40L210.1 225.60L210.7 224.70L211.3 223.90L211.8 223.10L212.4 222.40L213.0 221.60L213.6 220.90L214.2 220.20L214.9 219.50L215.5 218.80L216.1 218.20L216.7 217.50L217.4 216.90L218.0 216.30L218.6 215.80L219.3 215.20L219.9 214.70L220.5 214.20L221.2 213.70L221.8 213.20L222.4 212.70L223.1 212.30L223.7 211.80L224.3 211.40L224.9 211.00L225.5 210.60L226.1 210.30L226.8 209.90L227.4 209.60L227.9 209.20L228.5 208.90L229.1 208.60L229.7 208.30L230.3 208.00L230.9 207.80L231.5 207.50L232.1 207.20L232.7 207.00L233.3 206.80L233.9 206.50L234.5 206.30L235.1 206.10L235.6 205.90L236.2 205.70L236.8 205.50L237.4 205.40L238.0 205.20L238.5 205.00L239.1 204.90L239.7 204.70L240.3 204.60L240.8 204.40L241.4 204.30L242.0 204.20L242.6 204.00L243.1 203.90L243.7 203.80"/>
</g>
<path class="cv" stroke-width="1.6" d="M329.6 139.9L333.1 137.5L336.7 135.2L340.2 132.9L343.8 130.6L347.3 128.3L350.9 126.0L354.4 123.8L357.9 121.6L361.5 119.4L365.0 117.3L368.6 115.1L372.1 113.0L375.7 110.9L379.2 108.8L382.7 106.8L386.3 104.7L389.8 102.7L393.4 100.7L396.9 98.8L400.4 96.8L404.0 94.9L407.5 93.0L411.1 91.1L414.6 89.3L418.2 87.5L421.7 85.6L425.2 83.9L428.8 82.1L432.3 80.4L435.9 78.6L439.4 76.9L443.0 75.3L446.5 73.6L450.0 72.0L453.6 70.4L457.1 68.8L460.7 67.2L464.2 65.7L467.8 64.2L471.3 62.7L474.8 61.2L478.4 59.7L481.9 58.3L485.5 56.9L489.0 55.5L492.5 54.2L496.1 52.8L499.6 51.5L503.2 50.2L506.7 48.9L510.3 47.7L513.8 46.4L517.3 45.2L520.9 44.0L524.4 42.9L528.0 41.7L531.5 40.6L535.1 39.5L538.6 38.4"/>
<path class="cv" stroke-width="4.2" stroke-linecap="round" d="M432.0 80.5L434.6 79.3L437.2 78.0L439.8 76.8L442.4 75.5L445.0 74.3L447.6 73.1L450.2 71.9L452.8 70.7L455.4 69.5L458.0 68.4L460.6 67.2L463.2 66.1L465.8 65.0L468.4 63.9L471.1 62.8L473.7 61.7L476.3 60.6L478.9 59.5L481.5 58.5L484.1 57.5L486.7 56.4L489.3 55.4L491.9 54.4L494.5 53.4L497.1 52.4L499.7 51.5L502.3 50.5L504.9 49.6L507.5 48.6"/>
<path class="cv" stroke-width="1.85" d="M337.2 167 L538.6 320.1"/>
<g class="sq">
<rect x="463.8" y="251.0" width="11" height="11"/>
<rect x="452.9" y="248.3" width="11" height="11"/>
<rect x="461.5" y="255.5" width="11" height="11"/>
<rect x="469.3" y="260.2" width="11" height="11"/>
<rect x="474.8" y="263.8" width="11" height="11"/>
<rect x="456.0" y="254.0" width="11" height="11"/>
<rect x="481.2" y="273.0" width="11" height="11"/>
<rect x="438.2" y="241.0" width="11" height="11"/>
<rect x="442.0" y="246.4" width="11" height="11"/>
<rect x="445.2" y="248.0" width="11" height="11"/>
<rect x="445.5" y="247.4" width="11" height="11"/>
<rect x="451.2" y="252.0" width="11" height="11"/>
<rect x="458.5" y="257.5" width="11" height="11"/>
<rect x="465.5" y="262.5" width="11" height="11"/>
<rect x="470.0" y="267.5" width="11" height="11"/>
<rect x="490.4" y="283.0" width="11" height="11"/>
<rect x="437.4" y="244.6" width="11" height="11"/>
<rect x="449.2" y="252.8" width="11" height="11"/>
<rect x="473.5" y="271.5" width="11" height="11"/>
<rect x="477.5" y="275.5" width="11" height="11"/>
<rect x="483.5" y="279.0" width="11" height="11"/>
<rect x="452.9" y="261.0" width="11" height="11"/>
<rect x="458.4" y="263.8" width="11" height="11"/>
<rect x="463.9" y="271.1" width="11" height="11"/>
<rect x="468.4" y="275.7" width="11" height="11"/>
<rect x="474.8" y="279.3" width="11" height="11"/>
<rect x="479.4" y="283.0" width="11" height="11"/>
</g>
<path class="ax" d="M47.6 10.5H256.6V323.1H47.6Z M329.6 10.5H538.6V323.1H329.6Z"/>
<path class="ax" style="stroke:#707070" d="M47.6 167.0H256.6 M329.6 167.0H538.6"/>
<path class="ax" style="stroke:#707070" d="M75.47 10.5v5 M75.47 161.0v12 M75.47 323.1v-6.5 M131.20 10.5v5 M131.20 161.0v12 M131.20 323.1v-6.5 M186.93 10.5v5 M186.93 161.0v12 M186.93 323.1v-6.5 M242.66 10.5v5 M242.66 161.0v12 M242.66 323.1v-6.5 M399.27 10.5v5 M399.27 161.0v12 M399.27 323.1v-6.5 M468.93 10.5v5 M468.93 161.0v12 M468.93 323.1v-6.5 M47.6 58.60h6 M256.6 58.60h-6 M47.6 106.60h6 M256.6 106.60h-6 M47.6 154.60h6 M256.6 154.60h-6 M47.6 201.70h6 M256.6 201.70h-6 M47.6 236.37h6 M256.6 236.37h-6 M47.6 271.03h6 M256.6 271.03h-6 M47.6 305.70h6 M256.6 305.70h-6 M329.6 38.96h6 M538.6 38.96h-6 M329.6 67.42h6 M538.6 67.42h-6 M329.6 95.88h6 M538.6 95.88h-6 M329.6 124.34h6 M538.6 124.34h-6 M329.6 152.80h6 M538.6 152.80h-6 M329.6 206.10h6 M538.6 206.10h-6 M329.6 245.20h6 M538.6 245.20h-6 M329.6 284.30h6 M538.6 284.30h-6"/>
<g class="t" text-anchor="end">
<text x="42" y="13.3">120</text>
<text x="42" y="61.3">80</text>
<text x="42" y="109.3">40</text>
<text x="42" y="157.3">0</text>
<text x="42" y="204.4">60</text>
<text x="42" y="239.1">40</text>
<text x="42" y="273.7">20</text>
<text x="42" y="308.4">0</text>
<text x="323.7" y="13.2">2</text>
<text x="323.7" y="41.7">0</text>
<text x="323.7" y="70.1">-2</text>
<text x="323.7" y="98.6">-4</text>
<text x="323.7" y="127.0">-6</text>
<text x="323.7" y="155.5">-8</text>
<text x="323.7" y="208.8">0.4</text>
<text x="323.7" y="247.9">0.3</text>
<text x="323.7" y="287.0">0.2</text>
<text x="323.7" y="326.1">0.1</text>
</g>
<g class="t" text-anchor="middle">
<text x="75.0" y="334">-0.8</text>
<text x="130.7" y="334">-1.2</text>
<text x="186.4" y="334">-1.6</text>
<text x="242.2" y="334">-2.0</text>
<text x="329.1" y="334">-0.5</text>
<text x="398.8" y="334">-1.0</text>
<text x="468.4" y="334">-1.5</text>
<text x="538.1" y="334">-2.0</text>
</g>
<g class="l">
<text x="152" y="348" text-anchor="middle"><tspan font-style="italic">E</tspan>/V</text>
<text x="433.7" y="348" text-anchor="middle"><tspan font-style="italic">E</tspan>/V</text>
<text transform="translate(17.1 0) rotate(-90)" xml:space="preserve"><tspan x="-130.2" y="0.0" font-style="italic">i </tspan><tspan x="-125.4" y="0.0">/</tspan><tspan x="-123.2" y="0.0" font-style="italic">v</tspan><tspan x="-116.2" y="-5.8" class="s">1/2 </tspan><tspan x="-106.2" y="0.0">(</tspan><tspan x="-100.6" y="0.0">µ</tspan><tspan x="-93.6" y="0.0">A </tspan><tspan x="-82.2" y="0.0">V</tspan><tspan x="-75.0" y="-7.8" class="s">-1/2 </tspan><tspan x="-61.3" y="0.0">s</tspan><tspan x="-55.1" y="-7.8" class="s">1/2</tspan><tspan x="-45.6" y="0.0">)</tspan></text>
<text transform="translate(18.3 0) rotate(-90)" xml:space="preserve"><tspan x="-261.5" y="0.0" font-style="italic">I </tspan><tspan x="-258.5" y="0.0">/</tspan><tspan x="-254.1" y="0.0">µ</tspan><tspan x="-246.8" y="0.0">A </tspan><tspan x="-237.7" y="0.0">s</tspan><tspan x="-231.5" y="-6.8" class="s">1/2</tspan></text>
<text transform="translate(300.7 0) rotate(-90)" xml:space="preserve"><tspan x="-125.1" y="0.0">l</tspan><tspan x="-122.0" y="0.0">o</tspan><tspan x="-115.4" y="0.0">g </tspan><tspan x="-106.5" y="0.0">(</tspan><tspan x="-102.0" y="0.0" font-style="italic">k</tspan><tspan x="-95.2" y="5.5" class="s">het </tspan><tspan x="-82.5" y="0.0">/</tspan><tspan x="-79.0" y="0.0">c</tspan><tspan x="-72.6" y="0.0">m </tspan><tspan x="-59.8" y="0.0">s</tspan><tspan x="-54.1" y="-6.5" class="s">-1</tspan><tspan x="-47.6" y="0.0">)</tspan></text>
<text transform="translate(295.0 0) rotate(-90)" xml:space="preserve"><tspan x="-253.0" y="0.0">α</tspan><tspan x="-245.6" y="5.2" class="s">app</tspan></text>
</g>
<g class="p">
<text x="67.0" y="34.1">a</text>
<text x="69.0" y="195.1">b</text>
<text x="353.0" y="32.0">c</text>
<text x="353.0" y="304.7">d</text>
</g>
</svg>
</body></html>
